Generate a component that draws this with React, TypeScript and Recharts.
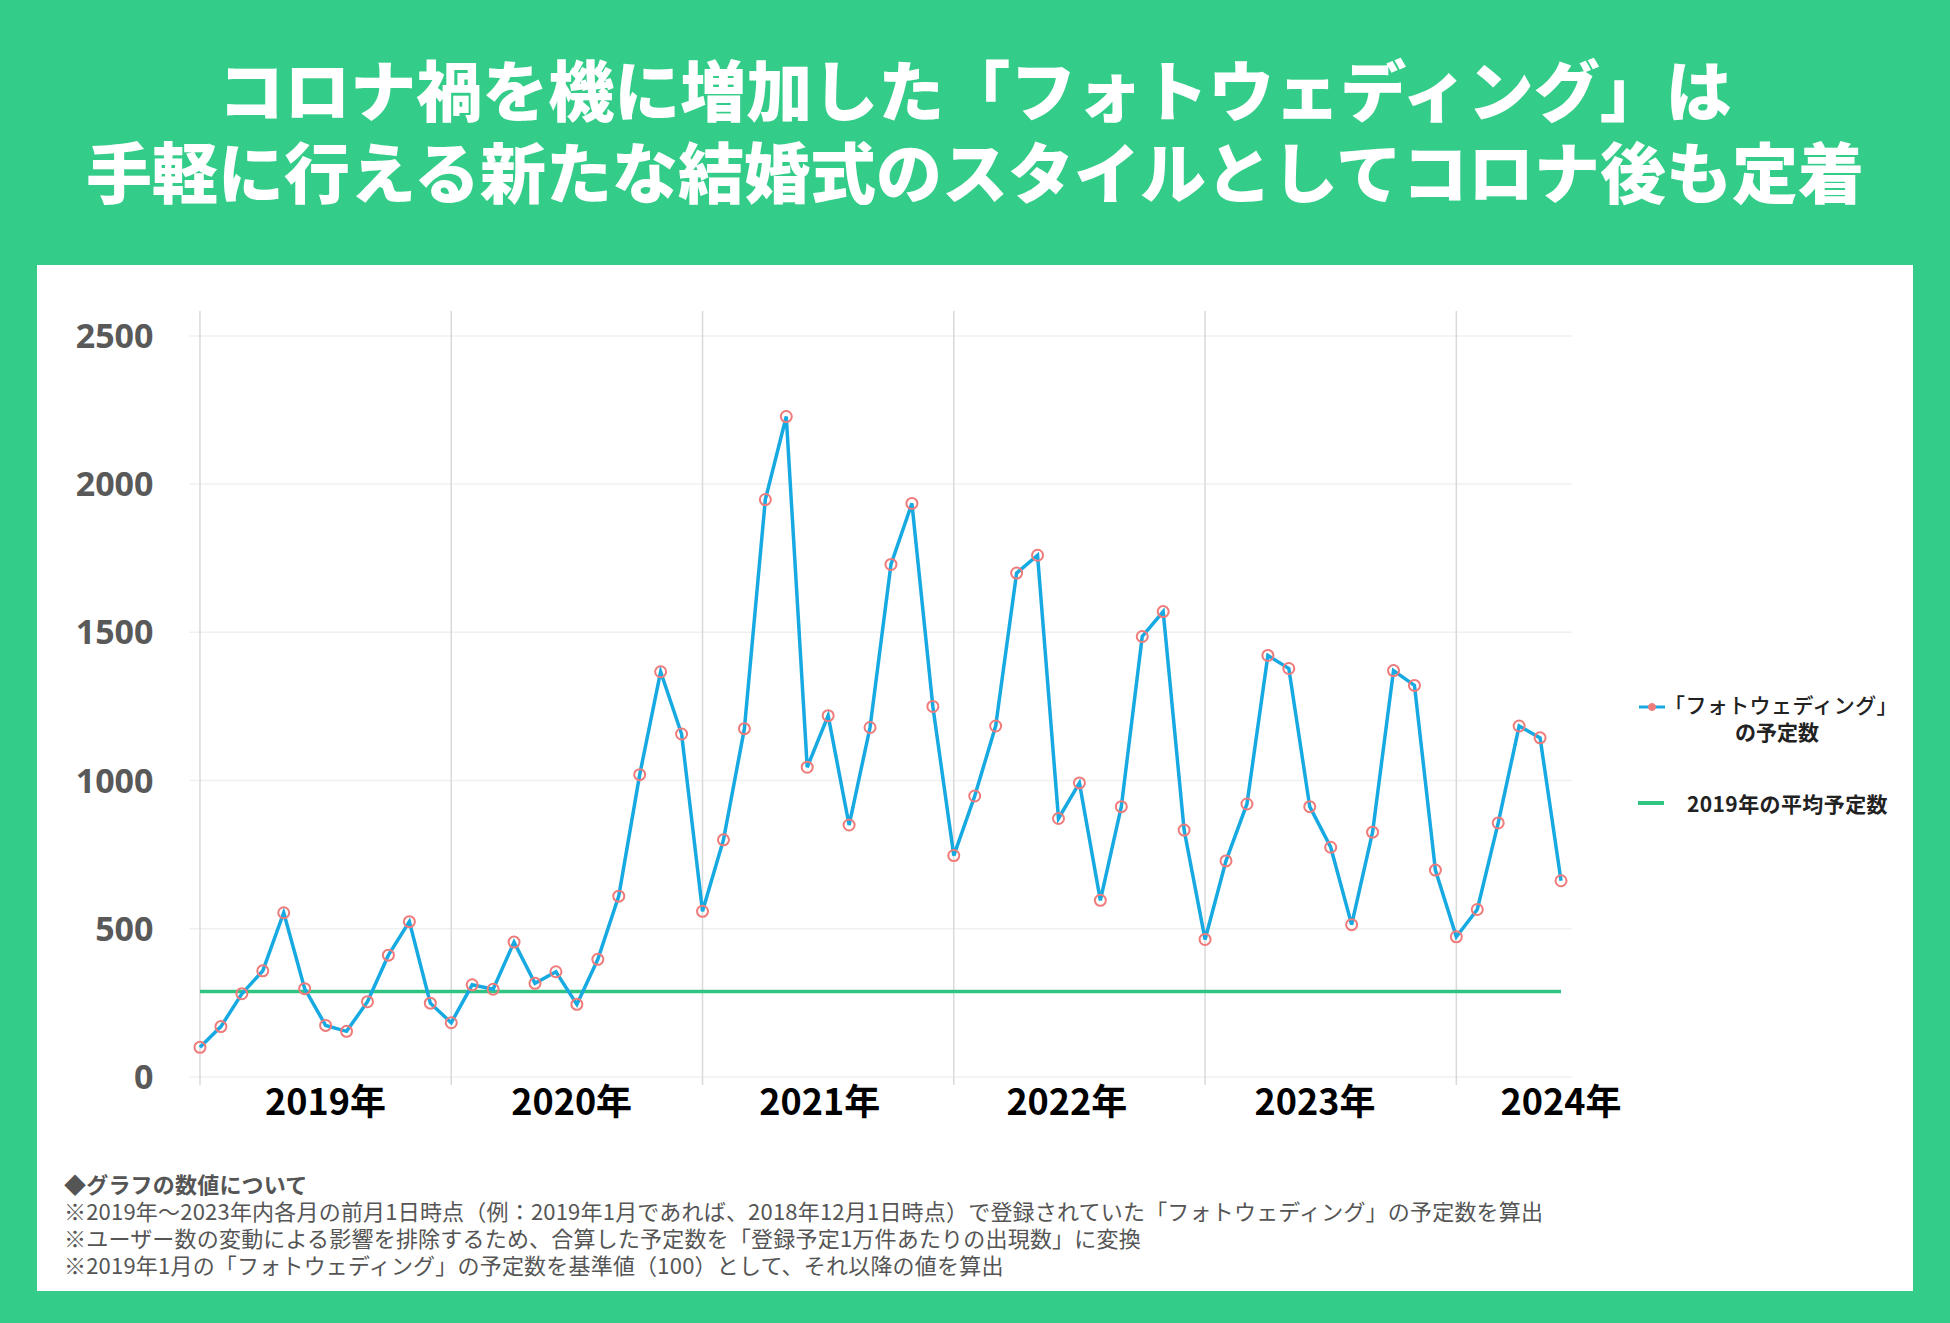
import React from 'react';
import { LineChart, Line, XAxis, YAxis, CartesianGrid } from 'recharts';

// ---- data ----
const years = ['2019年', '2020年', '2021年', '2022年', '2023年', '2024年'];
const values2019 = [100, 170, 281, 358, 554, 298, 174, 154, 254, 411, 524, 249];
const values2020 = [183, 311, 296, 455, 316, 355, 245, 397, 610, 1020, 1367, 1157];
const values2021 = [559, 800, 1175, 1948, 2228, 1045, 1219, 850, 1179, 1729, 1935, 1250];
const values2022 = [747, 948, 1184, 1700, 1760, 872, 992, 596, 912, 1486, 1570, 833];
const values2023 = [464, 729, 921, 1422, 1378, 912, 775, 514, 826, 1371, 1321, 698];
const values2024 = [473, 565, 857, 1184, 1144, 662];
const avg2019 = 288;
const yTicks = [0, 500, 1000, 1500, 2000, 2500];
const yearStartTicks = [0, 12, 24, 36, 48, 60];
const yearLabelTicks = [6, 17.75, 29.6, 41.4, 53.25, 65];
const seriesName = ['「フォトウェディング」', 'の予定数'];
const avgName = '2019年の平均予定数';
const titleLines = [
  'コロナ禍を機に増加した「フォトウェディング」は',
  '手軽に行える新たな結婚式のスタイルとしてコロナ後も定着',
];
const notes = [
  '◆グラフの数値について',
  '※2019年～2023年内各月の前月1日時点（例：2019年1月であれば、2018年12月1日時点）で登録されていた「フォトウェディング」の予定数を算出',
  '※ユーザー数の変動による影響を排除するため、合算した予定数を「登録予定1万件あたりの出現数」に変換',
  '※2019年1月の「フォトウェディング」の予定数を基準値（100）として、それ以降の値を算出',
];

const allValues = [...values2019, ...values2020, ...values2021, ...values2022, ...values2023, ...values2024];
const data = allValues.map((v, i) => ({ idx: i, value: v, avg: avg2019 }));

const GREEN = '#33cc88';
const BLUE = '#17a9e1';
const PINK = '#ef7b7b';
const AVG = '#30c483';
const CJK = '"Noto Sans CJK JP", "Noto Sans", sans-serif';

export default function App() {
  return (
    <div style={{ position: 'absolute', left: 0, top: 0, width: 1950, height: 1323, background: GREEN, overflow: 'hidden', fontFamily: CJK }}>
      {titleLines.map((t, i) => (
        <div key={i} style={{ position: 'absolute', left: 0, width: 1950, top: (i === 0 ? 87 : 169) - 40, height: 80, lineHeight: '80px', textAlign: 'center', color: '#fff', fontSize: 66, fontWeight: 900, whiteSpace: 'nowrap' }}>{t}</div>
      ))}
      <div style={{ position: 'absolute', left: 37, top: 265, width: 1876, height: 1026, background: '#fff' }} />
      <div style={{ position: 'absolute', left: 0, top: 0 }}>
        <LineChart width={1950} height={1323} data={data} margin={{ top: 311, right: 378.5, bottom: 178, left: 69.5 }} style={{ fontFamily: CJK }}>
          <CartesianGrid horizontal={true} vertical={false} syncWithTicks stroke="#f0f0f0" strokeWidth={1.5} />
          <CartesianGrid horizontal={false} vertical={true} syncWithTicks stroke="#d9d9d9" strokeWidth={1.5} />
          <XAxis xAxisId={0} dataKey="idx" type="number" domain={[-0.5, 65.5]} ticks={yearStartTicks} allowDataOverflow hide height={0} />
          <XAxis
            xAxisId="year"
            dataKey="idx"
            type="number"
            domain={[-0.5, 65.5]}
            ticks={yearLabelTicks}
            allowDataOverflow
            interval={0}
            height={60}
            axisLine={false}
            tickLine={false}
            tickSize={0}
            tickMargin={4}
            tickFormatter={(v, i) => years[i]}
            tick={{ fill: '#000', fontSize: 36, fontWeight: 700, fontFamily: CJK }}
          />
          <YAxis
            type="number"
            domain={[-27, 2584]}
            ticks={yTicks}
            allowDataOverflow
            width={120}
            axisLine={false}
            tickLine={false}
            tickSize={0}
            tickMargin={36}
            tick={{ fill: '#595959', fontSize: 34, fontWeight: 700, fontFamily: '"Open Sans", sans-serif' }}
          />
          <Line type="linear" dataKey="avg" stroke={AVG} strokeWidth={3.5} dot={false} isAnimationActive={false} name={avgName} />
          <Line
            type="linear"
            dataKey="value"
            stroke={BLUE}
            strokeWidth={3.5}
            dot={{ r: 5.5, stroke: PINK, strokeWidth: 2, fill: 'none' }}
            isAnimationActive={false}
            name={seriesName.join('')}
          />
        </LineChart>
      </div>
      {/* legend */}
      <svg style={{ position: 'absolute', left: 1636, top: 695 }} width={32} height={120}>
        <line x1={3} y1={12} x2={29} y2={12} stroke={BLUE} strokeWidth={3} />
        <circle cx={16} cy={12} r={3.5} fill={PINK} stroke={PINK} />
        <line x1={2} y1={108} x2={28} y2={108} stroke={AVG} strokeWidth={4} />
      </svg>
      <div style={{ position: 'absolute', left: 1664, top: 691, width: 226, textAlign: 'center', fontSize: 21, lineHeight: '27px', color: '#222', whiteSpace: 'nowrap' }}>
        <div style={{ fontWeight: 500, letterSpacing: 0.4 }}>{seriesName[0]}</div>
        <div style={{ fontWeight: 700 }}>{seriesName[1]}</div>
      </div>
      <div style={{ position: 'absolute', left: 1687, top: 789, fontSize: 21, lineHeight: '28px', fontWeight: 700, color: '#222', whiteSpace: 'nowrap', letterSpacing: 0.4 }}>{avgName}</div>
      {/* notes */}
      <div style={{ position: 'absolute', left: 64, top: 1170, fontSize: 22, lineHeight: '27px', color: '#555', whiteSpace: 'nowrap', letterSpacing: 0.2 }}>
        {notes.map((n, i) => (
          <div key={i} style={{ fontWeight: i === 0 ? 700 : 400 }}>{n}</div>
        ))}
      </div>
    </div>
  );
}
